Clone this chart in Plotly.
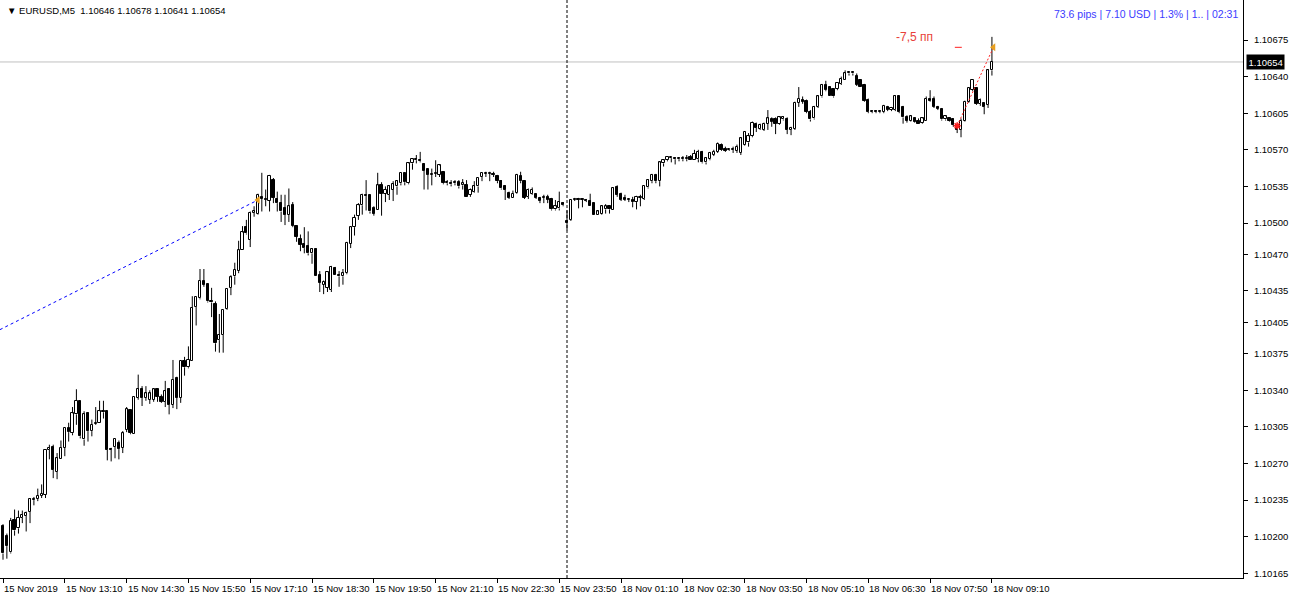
import plotly.graph_objects as go

# ---------------- data: prices written as their five decimals (10210 -> 1.10210) ----------------
base_price = 1.0
point = 0.00001

open_pts = [
    10210,10201,10185,10216,10208,10218,10220,10224,10235,10236,
    10239,10240,10283,10286,10262,10274,10285,10304,10299,10317,
    10330,10293,10318,10301,10308,10309,10320,10320,10284,10286,
    10290,10285,10302,10321,10298,10333,10341,10333,10331,10331,
    10341,10334,10329,10341,10326,10352,10333,10368,10362,10368,
    10420,10428,10445,10442,10425,10423,10388,10393,10418,10438,
    10449,10454,10474,10496,10484,10510,10509,10525,10523,10521,
    10541,10523,10519,10514,10508,10517,10497,10485,10480,10478,
    10471,10475,10450,10441,10438,10436,10457,10450,10449,10452,
    10480,10496,10507,10517,10527,10527,10514,10512,10536,10528,
    10527,10532,10535,10538,10548,10538,10557,10560,10560,10556,
    10552,10546,10547,10546,10549,10538,10538,10538,10539,10536,
    10536,10527,10530,10535,10544,10547,10547,10547,10545,10540,
    10535,10529,10524,10529,10545,10540,10525,10528,10528,10524,
    10524,10525,10523,10513,10514,10519,10502,10503,10522,10523,
    10522,10522,10521,10519,10508,10509,10513,10516,10512,10534,
    10528,10524,10522,10522,10520,10524,10523,10534,10540,10546,
    10540,10557,10560,10562,10562,10561,10561,10561,10563,10560,
    10561,10568,10558,10561,10565,10568,10575,10571,10570,10570,
    10569,10567,10575,10577,10583,10595,10590,10589,10595,10599,
    10599,10595,10599,10599,10589,10590,10615,10618,10617,10606,
    10600,10611,10621,10632,10630,10628,10628,10633,10637,10643,
    10643,10641,10637,10632,10618,10606,10607,10606,10606,10611,
    10608,10608,10621,10611,10601,10598,10600,10598,10596,10598,
    10619,10619,10611,10609,10599,10600,10599,10594,10589,10598,
    10616,10627,10629,10614,10615,10613,10646,
]
high_pts = [
    10212,10203,10218,10226,10225,10225,10224,10237,10238,10246,
    10250,10283,10288,10288,10280,10292,10304,10309,10324,10341,
    10330,10320,10319,10312,10324,10330,10330,10320,10285,10293,
    10292,10301,10324,10321,10334,10355,10344,10344,10340,10342,
    10341,10336,10349,10342,10369,10353,10369,10372,10382,10430,
    10429,10456,10456,10442,10438,10425,10413,10417,10437,10450,
    10462,10483,10497,10503,10511,10516,10528,10548,10532,10546,
    10543,10530,10527,10527,10533,10520,10498,10489,10496,10492,
    10476,10476,10454,10445,10454,10459,10458,10454,10456,10482,
    10497,10508,10519,10528,10541,10527,10516,10548,10539,10535,
    10536,10540,10541,10548,10548,10558,10562,10565,10568,10557,
    10552,10552,10560,10556,10549,10541,10541,10541,10541,10542,
    10541,10533,10540,10543,10548,10549,10549,10549,10546,10541,
    10536,10530,10531,10547,10549,10541,10533,10534,10528,10525,
    10527,10527,10524,10522,10530,10520,10512,10522,10524,10524,
    10523,10523,10528,10519,10512,10517,10518,10517,10534,10536,
    10529,10527,10523,10525,10526,10527,10535,10542,10547,10547,
    10559,10561,10563,10563,10563,10563,10564,10565,10565,10570,
    10570,10569,10563,10568,10570,10577,10576,10573,10571,10573,
    10575,10582,10588,10586,10597,10596,10595,10596,10608,10601,
    10601,10602,10602,10601,10592,10616,10630,10621,10618,10608,
    10612,10622,10633,10636,10631,10629,10634,10640,10646,10645,
    10645,10643,10637,10633,10619,10608,10608,10608,10613,10612,
    10611,10622,10621,10612,10603,10603,10601,10600,10601,10621,
    10627,10621,10612,10610,10603,10601,10600,10595,10600,10617,
    10630,10637,10630,10619,10615,10647,10678,
]
low_pts = [
    10178,10179,10184,10201,10203,10213,10205,10213,10230,10234,
    10237,10237,10274,10256,10255,10274,10277,10291,10297,10307,
    10294,10287,10291,10296,10307,10309,10313,10273,10272,10275,
    10274,10280,10300,10298,10298,10331,10325,10330,10327,10329,
    10329,10328,10324,10317,10323,10322,10328,10354,10361,10368,
    10402,10427,10439,10424,10410,10377,10376,10376,10417,10431,
    10441,10452,10474,10489,10477,10506,10508,10511,10516,10511,
    10519,10511,10501,10498,10501,10496,10482,10473,10471,10469,
    10461,10449,10434,10432,10434,10434,10450,10439,10441,10451,
    10476,10488,10503,10508,10512,10509,10507,10512,10507,10520,
    10522,10521,10527,10536,10536,10537,10551,10557,10558,10532,
    10532,10536,10544,10544,10537,10536,10535,10536,10533,10532,
    10525,10525,10529,10529,10540,10544,10540,10544,10538,10532,
    10522,10523,10524,10528,10538,10523,10523,10527,10523,10519,
    10519,10519,10512,10512,10512,10516,10493,10502,10521,10514,
    10515,10520,10516,10508,10508,10508,10509,10509,10512,10525,
    10521,10521,10520,10515,10513,10516,10522,10533,10538,10538,
    10535,10554,10559,10558,10556,10559,10559,10559,10560,10560,
    10558,10557,10556,10560,10564,10567,10569,10568,10569,10567,
    10567,10565,10574,10573,10582,10587,10589,10588,10589,10592,
    10585,10594,10598,10585,10584,10589,10611,10614,10605,10597,
    10599,10610,10620,10626,10621,10620,10627,10632,10637,10641,
    10641,10631,10630,10616,10605,10605,10605,10605,10605,10607,
    10607,10607,10605,10595,10596,10597,10596,10595,10595,10598,
    10616,10610,10608,10598,10598,10597,10592,10586,10582,10597,
    10615,10626,10613,10612,10604,10610,10641,
]
close_pts = [
    10184,10191,10215,10206,10218,10221,10223,10236,10236,10239,
    10241,10283,10285,10264,10275,10285,10304,10300,10318,10330,
    10296,10317,10301,10307,10309,10320,10319,10283,10283,10293,
    10284,10299,10322,10299,10334,10341,10333,10337,10337,10341,
    10334,10329,10339,10326,10350,10333,10368,10362,10369,10419,
    10429,10445,10441,10425,10424,10385,10393,10417,10437,10448,
    10455,10474,10491,10490,10510,10511,10527,10523,10522,10545,
    10524,10519,10511,10508,10516,10497,10487,10479,10476,10471,
    10475,10449,10443,10444,10453,10458,10450,10449,10452,10481,
    10496,10505,10517,10527,10526,10511,10509,10536,10528,10532,
    10535,10537,10540,10548,10539,10557,10561,10561,10559,10550,
    10546,10547,10548,10555,10538,10539,10537,10539,10535,10538,
    10525,10532,10535,10543,10548,10548,10548,10546,10540,10533,
    10532,10524,10528,10546,10540,10524,10532,10532,10524,10521,
    10525,10522,10513,10516,10520,10517,10500,10522,10523,10522,
    10523,10521,10516,10508,10511,10516,10516,10513,10533,10527,
    10522,10522,10523,10520,10525,10525,10535,10541,10546,10540,
    10558,10560,10563,10563,10561,10562,10562,10562,10560,10566,
    10568,10558,10562,10567,10568,10576,10570,10569,10571,10571,
    10573,10581,10587,10583,10596,10591,10594,10595,10600,10597,
    10595,10601,10601,10589,10591,10615,10619,10616,10606,10599,
    10611,10621,10632,10627,10621,10621,10634,10638,10643,10644,
    10644,10632,10630,10617,10606,10607,10606,10607,10612,10608,
    10610,10621,10606,10601,10598,10602,10597,10595,10600,10619,
    10617,10611,10609,10599,10602,10598,10594,10589,10598,10616,
    10629,10637,10614,10618,10611,10646,10654,
]

# time labels every 16 bars (M5)
tick_bars = [0, 16, 32, 48, 64, 80, 96, 112, 128, 144, 160, 176, 192, 208, 224, 240, 256]
tick_labels = ["15 Nov 2019", "15 Nov 13:10", "15 Nov 14:30", "15 Nov 15:50", "15 Nov 17:10",
               "15 Nov 18:30", "15 Nov 19:50", "15 Nov 21:10", "15 Nov 22:30", "15 Nov 23:50",
               "18 Nov 01:10", "18 Nov 02:30", "18 Nov 03:50", "18 Nov 05:10", "18 Nov 06:30",
               "18 Nov 07:50", "18 Nov 09:10"]
price_ticks = [1.10675, 1.10640, 1.10605, 1.10570, 1.10535, 1.10500, 1.10470, 1.10435,
               1.10405, 1.10375, 1.10340, 1.10305, 1.10270, 1.10235, 1.10200, 1.10165]

current_price = 1.10654
day_separator_bar = 146
trend_bars = [-0.8, 66]
trend_prices = [1.10398, 1.10522]
signal_bars = [247, 256.4]
signal_prices = [1.10593, 1.10668]
arrow_bars = [66, 256.4]
arrow_prices = [1.10522, 1.10668]

title_text = "▼ EURUSD,M5\u00a0\u00a01.10646 1.10678 1.10641 1.10654"
info_text = "73.6 pips | 7.10 USD | 1.3% | 1.. | 02:31"
label_text = "-7,5 пп"

# ---------------- build ----------------
def to_price(v):
    return round(base_price + v * point, 5)

bars = list(range(len(close_pts)))
opens = [to_price(v) for v in open_pts]
highs = [to_price(v) for v in high_pts]
lows = [to_price(v) for v in low_pts]
closes = [to_price(v) for v in close_pts]

body_lo = [min(o, c) for o, c in zip(opens, closes)]
body_hi = [max(o, c) for o, c in zip(opens, closes)]
body_len = [max(h - l, 0.000004) for h, l in zip(body_hi, body_lo)]
body_col = ["white" if c >= o else "black" for o, c in zip(opens, closes)]

# wick segments (upper and lower, so white bodies are not crossed)
wx, wy = [], []
for b, h, l, bh, bl in zip(bars, highs, lows, body_hi, body_lo):
    if h > bh:
        wx += [b, b, None]
        wy += [bh, h, None]
    if l < bl:
        wx += [b, b, None]
        wy += [l, bl, None]

W, H = 1290, 600
plot_right = 1243
plot_bottom = 578
FONT = "Liberation Sans, Arial, sans-serif"

fig = go.Figure()
fig.add_trace(go.Bar(
    x=bars, y=body_len, base=body_lo, width=0.58,
    marker=dict(color=body_col, line=dict(color="black", width=1)),
    hoverinfo="skip", showlegend=False,
))
fig.add_trace(go.Scatter(x=wx, y=wy, mode="lines", line=dict(color="black", width=1),
                         hoverinfo="skip", showlegend=False))

# blue dashed trend line
fig.add_trace(go.Scatter(x=trend_bars, y=trend_prices, mode="lines",
                         line=dict(color="#0000ff", width=1, dash="3px,3px"),
                         hoverinfo="skip", showlegend=False))
# red dotted signal line
fig.add_trace(go.Scatter(x=signal_bars, y=signal_prices, mode="lines",
                         line=dict(color="#ff2020", width=1, dash="2px,2px"),
                         hoverinfo="skip", showlegend=False))
# red star
fig.add_trace(go.Scatter(x=[signal_bars[0]], y=[signal_prices[0]], mode="markers",
                         marker=dict(symbol="asterisk-open", size=6, color="#ff2020",
                                     line=dict(color="#ff2020", width=1.5)),
                         hoverinfo="skip", showlegend=False))
# orange arrows
fig.add_trace(go.Scatter(x=arrow_bars, y=arrow_prices, mode="markers",
                         marker=dict(symbol="triangle-left", size=7, color="#e8a020"),
                         hoverinfo="skip", showlegend=False))

shapes = [
    dict(type="line", xref="paper", yref="y", x0=0, x1=plot_right / W,
         y0=current_price, y1=current_price, line=dict(color="#c0c0c0", width=1), layer="below"),
    dict(type="line", xref="x", yref="paper", x0=day_separator_bar, x1=day_separator_bar,
         y0=(H - plot_bottom) / H, y1=1, line=dict(color="black", width=1, dash="3px,2px")),
    dict(type="line", xref="x", yref="y", x0=246.4, x1=248.2, y0=1.10668, y1=1.10668,
         line=dict(color="#ff2020", width=1)),
]

annotations = []
for b, t in zip(tick_bars, tick_labels):
    annotations.append(dict(x=b, y=(H - 588) / H, xref="x", yref="paper", text=t,
                            showarrow=False, xanchor="left", yanchor="middle", xshift=-1,
                            font=dict(family=FONT, size=9.5, color="black")))
annotations += [
    dict(x=5 / W, y=(H - 11) / H, xref="paper", yref="paper", text=title_text, showarrow=False,
         xanchor="left", yanchor="middle", font=dict(family=FONT, size=9.5, color="black")),
    dict(x=1240 / W, y=(H - 14) / H, xref="paper", yref="paper", text=info_text, showarrow=False,
         xanchor="right", yanchor="middle", font=dict(family=FONT, size=10.5, color="#3c3cff")),
    dict(x=236, y=1.10678, xref="x", yref="y", text=label_text, showarrow=False,
         xanchor="center", yanchor="middle", font=dict(family=FONT, size=12, color="#e8403a")),
    dict(x=1246 / W, y=current_price, xref="paper", yref="y", text=f"{current_price:.5f}",
         showarrow=False, xanchor="left", yanchor="middle", bgcolor="black", borderpad=1.5,
         font=dict(family=FONT, size=9.5, color="white")),
]

bar_step = 3.863
x_left = -3 / bar_step
x_right = (plot_right - 3) / bar_step
y_top_price = 1.10675 + 40 * point / 1.0457
y_bot_price = y_top_price - plot_bottom * point / 1.0457

fig.update_layout(
    width=W, height=H, margin=dict(l=0, r=0, t=0, b=0),
    paper_bgcolor="white", plot_bgcolor="white",
    showlegend=False, hovermode=False, bargap=0,
    shapes=shapes, annotations=annotations,
    xaxis=dict(domain=[0, plot_right / W], range=[x_left, x_right], showgrid=False,
               zeroline=False, showline=True, linecolor="black", linewidth=1,
               tickmode="array", tickvals=tick_bars, showticklabels=False,
               ticks="outside", ticklen=4, tickcolor="black", fixedrange=True),
    yaxis=dict(domain=[(H - plot_bottom) / H, 1], range=[y_bot_price, y_top_price], side="right",
               showgrid=False, zeroline=False, showline=True, mirror=True, linecolor="black",
               linewidth=1, tickmode="array", tickvals=price_ticks,
               ticktext=[f"{p:.5f}" for p in price_ticks], ticks="outside", ticklen=4,
               ticklabelstandoff=4,
               tickcolor="black", tickfont=dict(family=FONT, size=9.5, color="black"),
               fixedrange=True),
)

fig.write_html("out.html")
